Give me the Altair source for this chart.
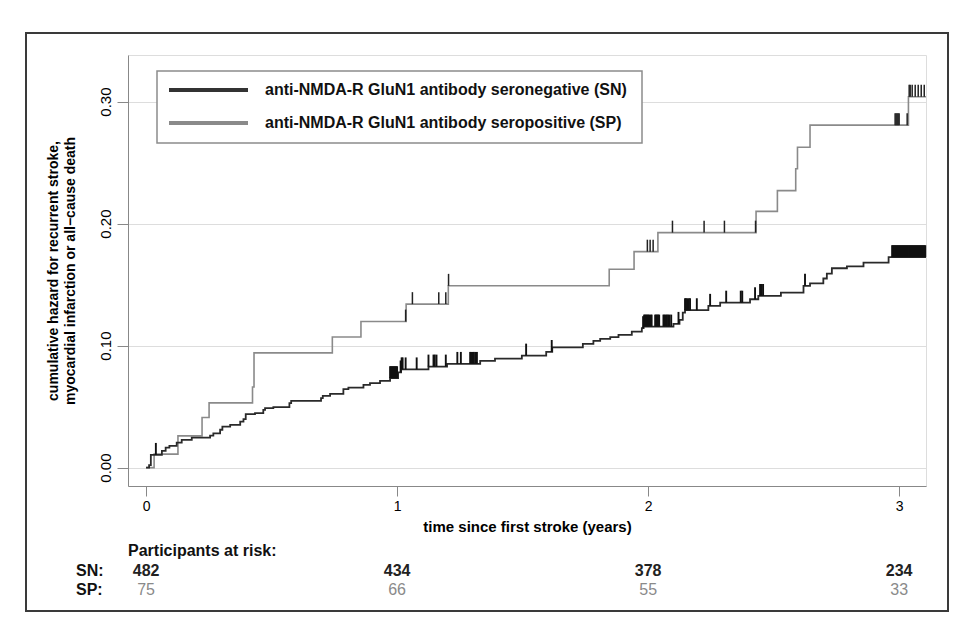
import altair as alt
import pandas as pd
import numpy as np

# ---------------- data ----------------
SERIES = [
    "anti-NMDA-R GluN1 antibody seronegative (SN)",
    "anti-NMDA-R GluN1 antibody seropositive (SP)",
]

# step points (time in years, cumulative hazard)
SN_T = [0.000, 0.012, 0.019, 0.063, 0.078, 0.093, 0.122, 0.142, 0.182, 0.255,
        0.268, 0.295, 0.304, 0.335, 0.375, 0.388, 0.397, 0.434, 0.467, 0.474,
        0.507, 0.571, 0.578, 0.697, 0.704, 0.733, 0.786, 0.806, 0.866, 0.892,
        0.932, 0.972, 1.004, 1.016, 1.125, 1.199, 1.331, 1.390, 1.497, 1.594,
        1.618, 1.740, 1.782, 1.809, 1.849, 1.882, 1.935, 1.975, 1.982, 2.101,
        2.125, 2.138, 2.147, 2.240, 2.287, 2.406, 2.439, 2.529, 2.619, 2.645,
        2.698, 2.712, 2.732, 2.792, 2.858, 2.958, 3.107]
SN_H = [0.0000, 0.0020, 0.0104, 0.0137, 0.0164, 0.0178, 0.0205, 0.0227, 0.0246, 0.0262,
        0.0280, 0.0310, 0.0336, 0.0350, 0.0377, 0.0397, 0.0438, 0.0446, 0.0473, 0.0487,
        0.0495, 0.0528, 0.0547, 0.0569, 0.0588, 0.0604, 0.0643, 0.0656, 0.0678, 0.0692,
        0.0711, 0.0733, 0.0780, 0.0805, 0.0828, 0.0850, 0.0875, 0.0893, 0.0918, 0.0948,
        0.0986, 0.1014, 0.1039, 0.1055, 0.1069, 0.1088, 0.1115, 0.1143, 0.1156, 0.1178,
        0.1210, 0.1270, 0.1290, 0.1326, 0.1352, 0.1380, 0.1407, 0.1434, 0.1490, 0.1510,
        0.1550, 0.1590, 0.1634, 0.1650, 0.1680, 0.1725, 0.1725]

SP_T = [0.000, 0.032, 0.127, 0.223, 0.251, 0.424, 0.430, 0.742, 0.856, 1.036,
        1.204, 1.845, 1.944, 2.039, 2.430, 2.515, 2.588, 2.595, 2.645, 3.037, 3.107]
SP_H = [0.000, 0.011, 0.026, 0.041, 0.053, 0.066, 0.094, 0.107, 0.1197, 0.134,
        0.149, 0.1626, 0.177, 0.1926, 0.210, 0.227, 0.245, 0.2626, 0.2807, 0.304, 0.304]

# censoring times (tick marks)
SN_CENS = [0.039,
           0.972, 0.976, 0.980, 0.984, 0.988, 0.992, 0.996, 1.000,
           1.014, 1.018, 1.022, 1.034, 1.078, 1.125, 1.145, 1.150, 1.157, 1.194,
           1.240, 1.254, 1.291, 1.296, 1.301, 1.306, 1.312, 1.318,
           1.514, 1.616,
           1.980, 1.984, 1.988, 1.992, 1.996, 2.000, 2.004, 2.010, 2.014,
           2.028, 2.032, 2.036, 2.040, 2.044,
           2.061, 2.065, 2.070, 2.075, 2.080, 2.085, 2.092,
           2.121, 2.147, 2.151, 2.156, 2.162, 2.167, 2.194,
           2.247, 2.311, 2.369, 2.375, 2.426, 2.446, 2.452, 2.458, 2.625,
           2.972, 2.976, 2.980, 2.984, 2.988, 2.992, 2.996, 3.000, 3.004, 3.008,
           3.012, 3.016, 3.020, 3.024, 3.028, 3.032, 3.036, 3.040, 3.044, 3.048,
           3.052, 3.056, 3.060, 3.064, 3.068, 3.072, 3.076, 3.080, 3.084, 3.088,
           3.092, 3.096, 3.100, 3.104]
SP_CENS = [1.034, 1.061, 1.166, 1.194, 1.205,
           1.997, 2.008, 2.020,
           2.097, 2.223, 2.304, 2.428,
           2.984, 2.988, 2.992, 2.996, 3.000, 3.032,
           3.040, 3.044, 3.052, 3.064, 3.076, 3.088, 3.100]

# numbers at risk
RISK_T = [0, 1, 2, 3]
SN_RISK = [482, 434, 378, 234]
SP_RISK = [75, 66, 55, 33]

Y_TICKS = [0.0, 0.1, 0.2, 0.3]
X_TICKS = [0, 1, 2, 3]

# ---------------- tables ----------------
def level_at(ts, hs, c):
    ts = np.asarray(ts)
    hs = np.asarray(hs)
    idx = np.searchsorted(ts, c, side="right") - 1
    return hs[idx]

sn_df = pd.DataFrame({"t": SN_T, "h": SN_H})
sp_df = pd.DataFrame({"t": SP_T, "h": SP_H})
sn_c = pd.DataFrame({"t": SN_CENS, "h": level_at(SN_T, SN_H, SN_CENS)})
sp_c = pd.DataFrame({"t": SP_CENS, "h": level_at(SP_T, SP_H, SP_CENS)})
sn_risk = pd.DataFrame({"t": RISK_T, "n": SN_RISK})
sp_risk = pd.DataFrame({"t": RISK_T, "n": SP_RISK})

FONT = "Liberation Sans"
DARK = "#2a2a2a"
GREY = "#8a8a8a"

xs = alt.Scale(domain=[-0.072, 3.107], nice=False, zero=False)
ys = alt.Scale(domain=[-0.0151, 0.3382], nice=False, zero=False)

X = alt.X("t:Q", scale=xs, axis=alt.Axis(
    values=X_TICKS, format="d", title="time since first stroke (years)",
    grid=False, tickSize=10, labelPadding=3, titlePadding=6,
    labelFontSize=14, titleFontSize=15))
Y = alt.Y("h:Q", scale=ys, axis=alt.Axis(
    values=Y_TICKS, format=".2f",
    title=["cumulative hazard for recurrent stroke,",
           "myocardial infarction or all\u2212cause death"],
    grid=True, tickSize=11, labelAngle=270, labelAlign="center",
    labelBaseline="bottom", labelPadding=4, labelFontSize=15,
    titleFontSize=14, titleLineHeight=17, titlePadding=21))

one = pd.DataFrame({"a": [0]})

frame = alt.Chart(one).mark_rect(fill="white", fillOpacity=0, stroke="#3a3a3a",
                                 strokeWidth=2).encode(
    x=alt.value(-102), x2=alt.value(820), y=alt.value(-22), y2=alt.value(556))

sn_line = alt.Chart(sn_df).mark_line(interpolate="step-after", color=DARK,
                                     strokeWidth=1.8).encode(x=X, y=Y)
sp_line = alt.Chart(sp_df).mark_line(interpolate="step-after", color=GREY,
                                     strokeWidth=1.6).encode(x=X, y=Y)

sn_ticks = alt.Chart(sn_c).transform_calculate(top="datum.h + 0.0098").mark_rule(
    color="#111", strokeWidth=1.9).encode(x=X, y=Y, y2="top:Q")
sp_ticks = alt.Chart(sp_c).transform_calculate(top="datum.h + 0.0098").mark_rule(
    color="#222", strokeWidth=1.5).encode(x=X, y=Y, y2="top:Q")

# legend (drawn manually)
leg_box = alt.Chart(one).mark_rect(fill="white", stroke="#8c8c8c", strokeWidth=1.5).encode(
    x=alt.value(29), x2=alt.value(514), y=alt.value(16), y2=alt.value(88))
leg_sn_line = alt.Chart(one).mark_rule(color="#333", strokeWidth=4).encode(
    x=alt.value(41), x2=alt.value(120), y=alt.value(35))
leg_sp_line = alt.Chart(one).mark_rule(color=GREY, strokeWidth=4).encode(
    x=alt.value(41), x2=alt.value(120), y=alt.value(68))
leg_sn_txt = alt.Chart(pd.DataFrame({"label": [SERIES[0]]})).mark_text(
    align="left", baseline="middle", font=FONT, fontSize=16, fontWeight="bold",
    color="#111").encode(text="label:N", x=alt.value(137), y=alt.value(35))
leg_sp_txt = alt.Chart(pd.DataFrame({"label": [SERIES[1]]})).mark_text(
    align="left", baseline="middle", font=FONT, fontSize=16, fontWeight="bold",
    color="#111").encode(text="label:N", x=alt.value(137), y=alt.value(68))

# at-risk table
TXT = dict(align="left", baseline="middle", font=FONT, fontSize=16,
           fontWeight="bold", color="#111")
risk_head = alt.Chart(pd.DataFrame({"s": ["Participants at risk:"]})).mark_text(
    **TXT).encode(text="s:N", x=alt.value(0), y=alt.value(496))
risk_sn_lab = alt.Chart(pd.DataFrame({"s": ["SN:"]})).mark_text(**TXT).encode(
    text="s:N", x=alt.value(-52), y=alt.value(516))
risk_sp_lab = alt.Chart(pd.DataFrame({"s": ["SP:"]})).mark_text(**TXT).encode(
    text="s:N", x=alt.value(-52), y=alt.value(535))
sn_risk_txt = alt.Chart(sn_risk).mark_text(
    baseline="middle", font=FONT, fontSize=16, fontWeight="bold", color="#222").encode(
    x=X, y=alt.value(516), text="n:Q")
sp_risk_txt = alt.Chart(sp_risk).mark_text(
    baseline="middle", font=FONT, fontSize=16, color=GREY).encode(
    x=X, y=alt.value(535), text="n:Q")

chart = alt.layer(
    frame, sp_line, sn_line, sp_ticks, sn_ticks,
    leg_box, leg_sn_line, leg_sp_line, leg_sn_txt, leg_sp_txt,
    risk_head, risk_sn_lab, risk_sp_lab, sn_risk_txt, sp_risk_txt,
).properties(
    width=798, height=431,
    padding={"left": 120, "top": 47, "right": 41, "bottom": 130},
    autosize=alt.AutoSizeParams(type="none"),
).configure_view(stroke=None).configure_axis(
    labelFont=FONT, titleFont=FONT, labelColor="#333", titleColor="#111",
    titleFontWeight="bold", domainColor="#222", domainWidth=1.5,
    tickColor="#222", tickWidth=1.5, gridColor="#e6e6e6", gridWidth=1.2,
).configure(background="white")

chart.save("out.html", embed_options={"renderer": "svg", "actions": False})
